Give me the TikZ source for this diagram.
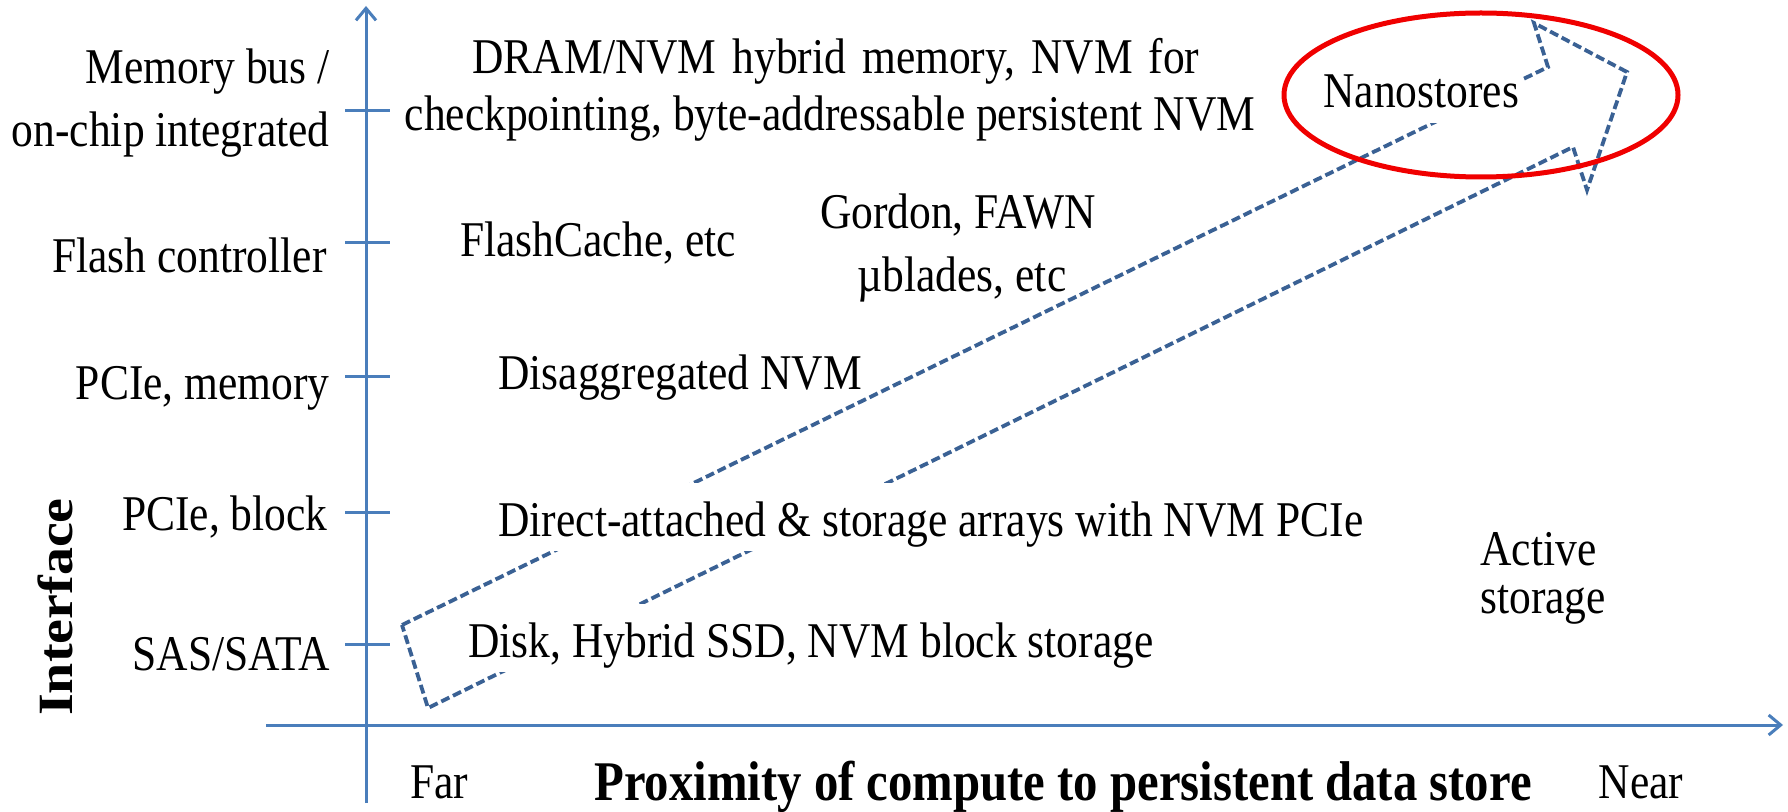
\documentclass[tikz,border=0pt]{standalone}
\usepackage{fontspec}
\setmainfont{Liberation Serif}[FakeStretch=0.87]
\newfontfamily\vertfont{Liberation Serif}
\usetikzlibrary{arrows.meta}
\definecolor{axisblue}{HTML}{4A7EBB}
\definecolor{arrowblue}{HTML}{3A6194}
\definecolor{ringred}{HTML}{F00000}
\tikzset{
  txt/.style={font=\fontsize{25pt}{30pt}\selectfont, inner sep=0pt},
  ylab/.style={txt, anchor=base east},
  cover/.style={txt, fill=white, inner xsep=2pt, inner ysep=0pt,
                text height=26.5pt, text depth=7.5pt},
  axisline/.style={draw=axisblue, line width=1.5pt},
  tick/.style={draw=axisblue, line width=1.5pt},
  flow/.style={draw=arrowblue, line width=1.9pt, dash pattern=on 4.5pt off 2pt, line join=miter},
  bigbold/.style={font=\fontsize{28pt}{32pt}\selectfont\bfseries, inner sep=0pt},
}
\begin{document}
\begin{tikzpicture}[x=0.5pt, y=-0.5pt]
\useasboundingbox (0,0) rectangle (1788,812);
\fill[white] (0,0) rectangle (1788,812);

% axes
\coordinate (ybot) at (366,803);
\coordinate (ytop) at (366,6);
\coordinate (xl) at (266,725);
\coordinate (xr) at (1783,725);
\draw[axisline, -{Straight Barb[length=6pt,width=10pt,line width=1.5pt]}] (ybot) -- (ytop);
\draw[axisline, -{Straight Barb[length=6pt,width=10pt,line width=1.5pt]}] (xl) -- (xr);

% ticks on the interface axis
\foreach \ty/\tn in {111/t1, 243/t2, 377/t3, 512/t4, 644/t5} {
  \coordinate (\tn a) at (345,\ty);
  \coordinate (\tn b) at (390,\ty);
  \draw[tick] (\tn a) -- (\tn b);
}

% interface levels
\node[ylab] (l1a) at (330,84) {Memory bus /};
\node[ylab] (l1b) at (330,147) {on-chip integrated};
\node[ylab] (l2) at (327,273) {Flash controller};
\node[ylab] (l3) at (330,400) {PCIe, memory};
\node[ylab] (l4) at (328,530) {PCIe, block};
\node[ylab] (l5) at (330,670) {SAS/SATA};

\node[bigbold, font=\fontsize{28pt}{32pt}\selectfont\vertfont\bfseries, xscale=0.88, rotate=90] (yname) at (55,607) {Interface};

% block arrow outline
\coordinate (p1) at (402,625);
\coordinate (p2) at (1548,67);
\coordinate (p3) at (1534,23);
\coordinate (p4) at (1627,72);
\coordinate (p5) at (1587,190);
\coordinate (p6) at (1573,147);
\coordinate (p7) at (428,708);
\draw[flow] (p1) -- (p2) -- (p3) -- (p4) -- (p5) -- (p6) -- (p7) -- cycle;

% technologies
\node[txt, anchor=base] (dram) at (836,74) {\spaceskip=8pt\relax DRAM/NVM hybrid memory, NVM for};
\node[txt, anchor=base] (ckpt) at (830,131) {checkpointing, byte-addressable persistent NVM};
\node[txt, anchor=base] (gordon) at (958,229) {Gordon, FAWN};
\node[txt, anchor=base] (ublades) at (962,292) {µblades, etc};
\node[txt, anchor=base west] (fcache) at (460,257) {FlashCache, etc};
\node[txt, anchor=base west] (disagg) at (498,390) {Disaggregated NVM};
\node[cover, anchor=base west] (direct) at (494,536) {Direct-attached \& storage arrays with NVM PCIe};
\node[cover, anchor=base west] (disk) at (464,657) {Disk, Hybrid SSD, NVM block storage};
\node[cover, anchor=base west] (nano) at (1319,108) {Nanostores};
\node[txt, anchor=base west] (active) at (1480,565) {Active};
\node[txt, anchor=base west] (astore) at (1480,613) {storage};

% proximity axis labels
\node[txt, anchor=base] (far) at (439,798) {Far};
\node[bigbold, anchor=base] (xname) at (1063,800) {Proximity of compute to persistent data store};
\node[txt, anchor=base] (near) at (1641,798) {Near};

% highlight ring
\draw[ringred, line width=2.5pt] (1481,95) ellipse [x radius=197, y radius=82];
\end{tikzpicture}
\end{document}
